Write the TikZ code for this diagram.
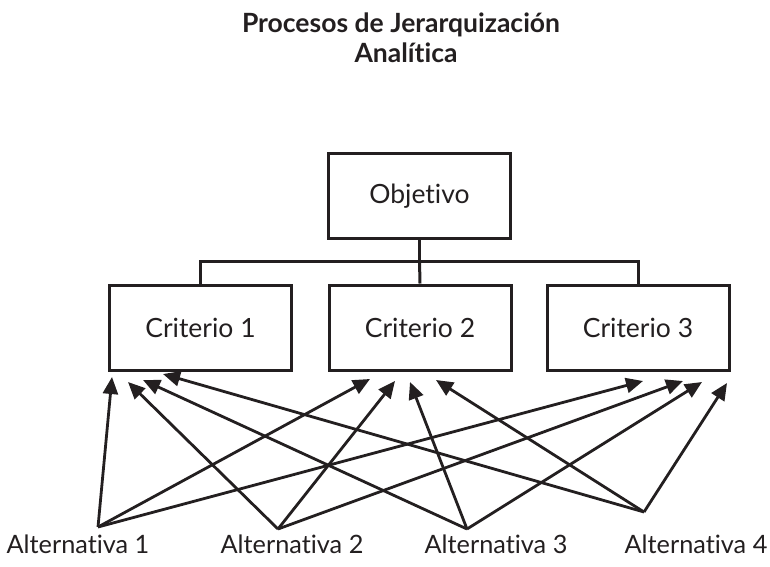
\documentclass[tikz,border=0pt]{standalone}
\usepackage{fontspec}
\setmainfont{Lato}[Ligatures={NoCommon,NoRequired}]
\usetikzlibrary{arrows.meta}
\definecolor{ink}{HTML}{231F20}
\begin{document}
\begin{tikzpicture}[x=1pt,y=-1pt,
  boxnode/.style={draw=ink,line width=3pt,minimum width=182pt,minimum height=85pt,inner sep=0pt,text=ink,font=\fontsize{26.5}{30}\selectfont},
  lbl/.style={anchor=base,text=ink,inner sep=0pt,font=\fontsize{25.3}{30}\selectfont},
  ttl/.style={anchor=base,text=ink,inner sep=0pt,font=\fontsize{26.5}{30}\selectfont\bfseries},
  conn/.style={draw=ink,line width=3pt},
  arr/.style={draw=ink,line width=2.8pt,-{Triangle[length=17pt,width=15pt]}}]
\useasboundingbox (0,0) rectangle (770,566);
% title
\node[ttl] (t1) at (401,32) {Procesos de Jerarquización};
\node[ttl] (t2) at (406,62) {Analítica};
% boxes
\node[boxnode] (obj) at (419.5,196) {Objetivo};
\node[boxnode] (c1) at (200.5,327.5) {Criterio 1};
\node[boxnode] (c2) at (420,327.5) {Criterio 2};
\node[boxnode] (c3) at (638,327.5) {Criterio 3};
% tree connectors
\coordinate (bar) at (419.5,261);
\draw[conn] (obj.south) -- (bar);
\draw[conn] (c1.north) |- (bar) -| (c3.north);
\draw[conn] (bar) -- (c2.north);
% labels
\node[lbl] (l1) at (78,553) {Alternativa 1};
\node[lbl] (l2) at (292,553) {Alternativa 2};
\node[lbl] (l3) at (496,553) {Alternativa 3};
\node[lbl] (l4) at (696,553) {Alternativa 4};
% apexes
\coordinate (a1) at (98,527);
\coordinate (a2) at (278,529);
\coordinate (a3) at (467,529);
\coordinate (a4) at (644,512);
% tips
\coordinate (t11) at (112,377);
\coordinate (t12) at (128,382);
\coordinate (t13) at (143,380);
\coordinate (t14) at (163,374);
\coordinate (t21) at (370,379);
\coordinate (t22) at (395,381);
\coordinate (t23) at (410,382);
\coordinate (t24) at (436,380);
\coordinate (t31) at (643,381);
\coordinate (t32) at (683,381);
\coordinate (t33) at (702,382);
\coordinate (t34) at (727,383);
% arrows
\foreach \a/\i in {a1/1,a2/2,a3/3,a4/4}{
  \draw[arr] (\a) -- (t1\i);
  \draw[arr] (\a) -- (t2\i);
  \draw[arr] (\a) -- (t3\i);
}
\end{tikzpicture}
\end{document}
